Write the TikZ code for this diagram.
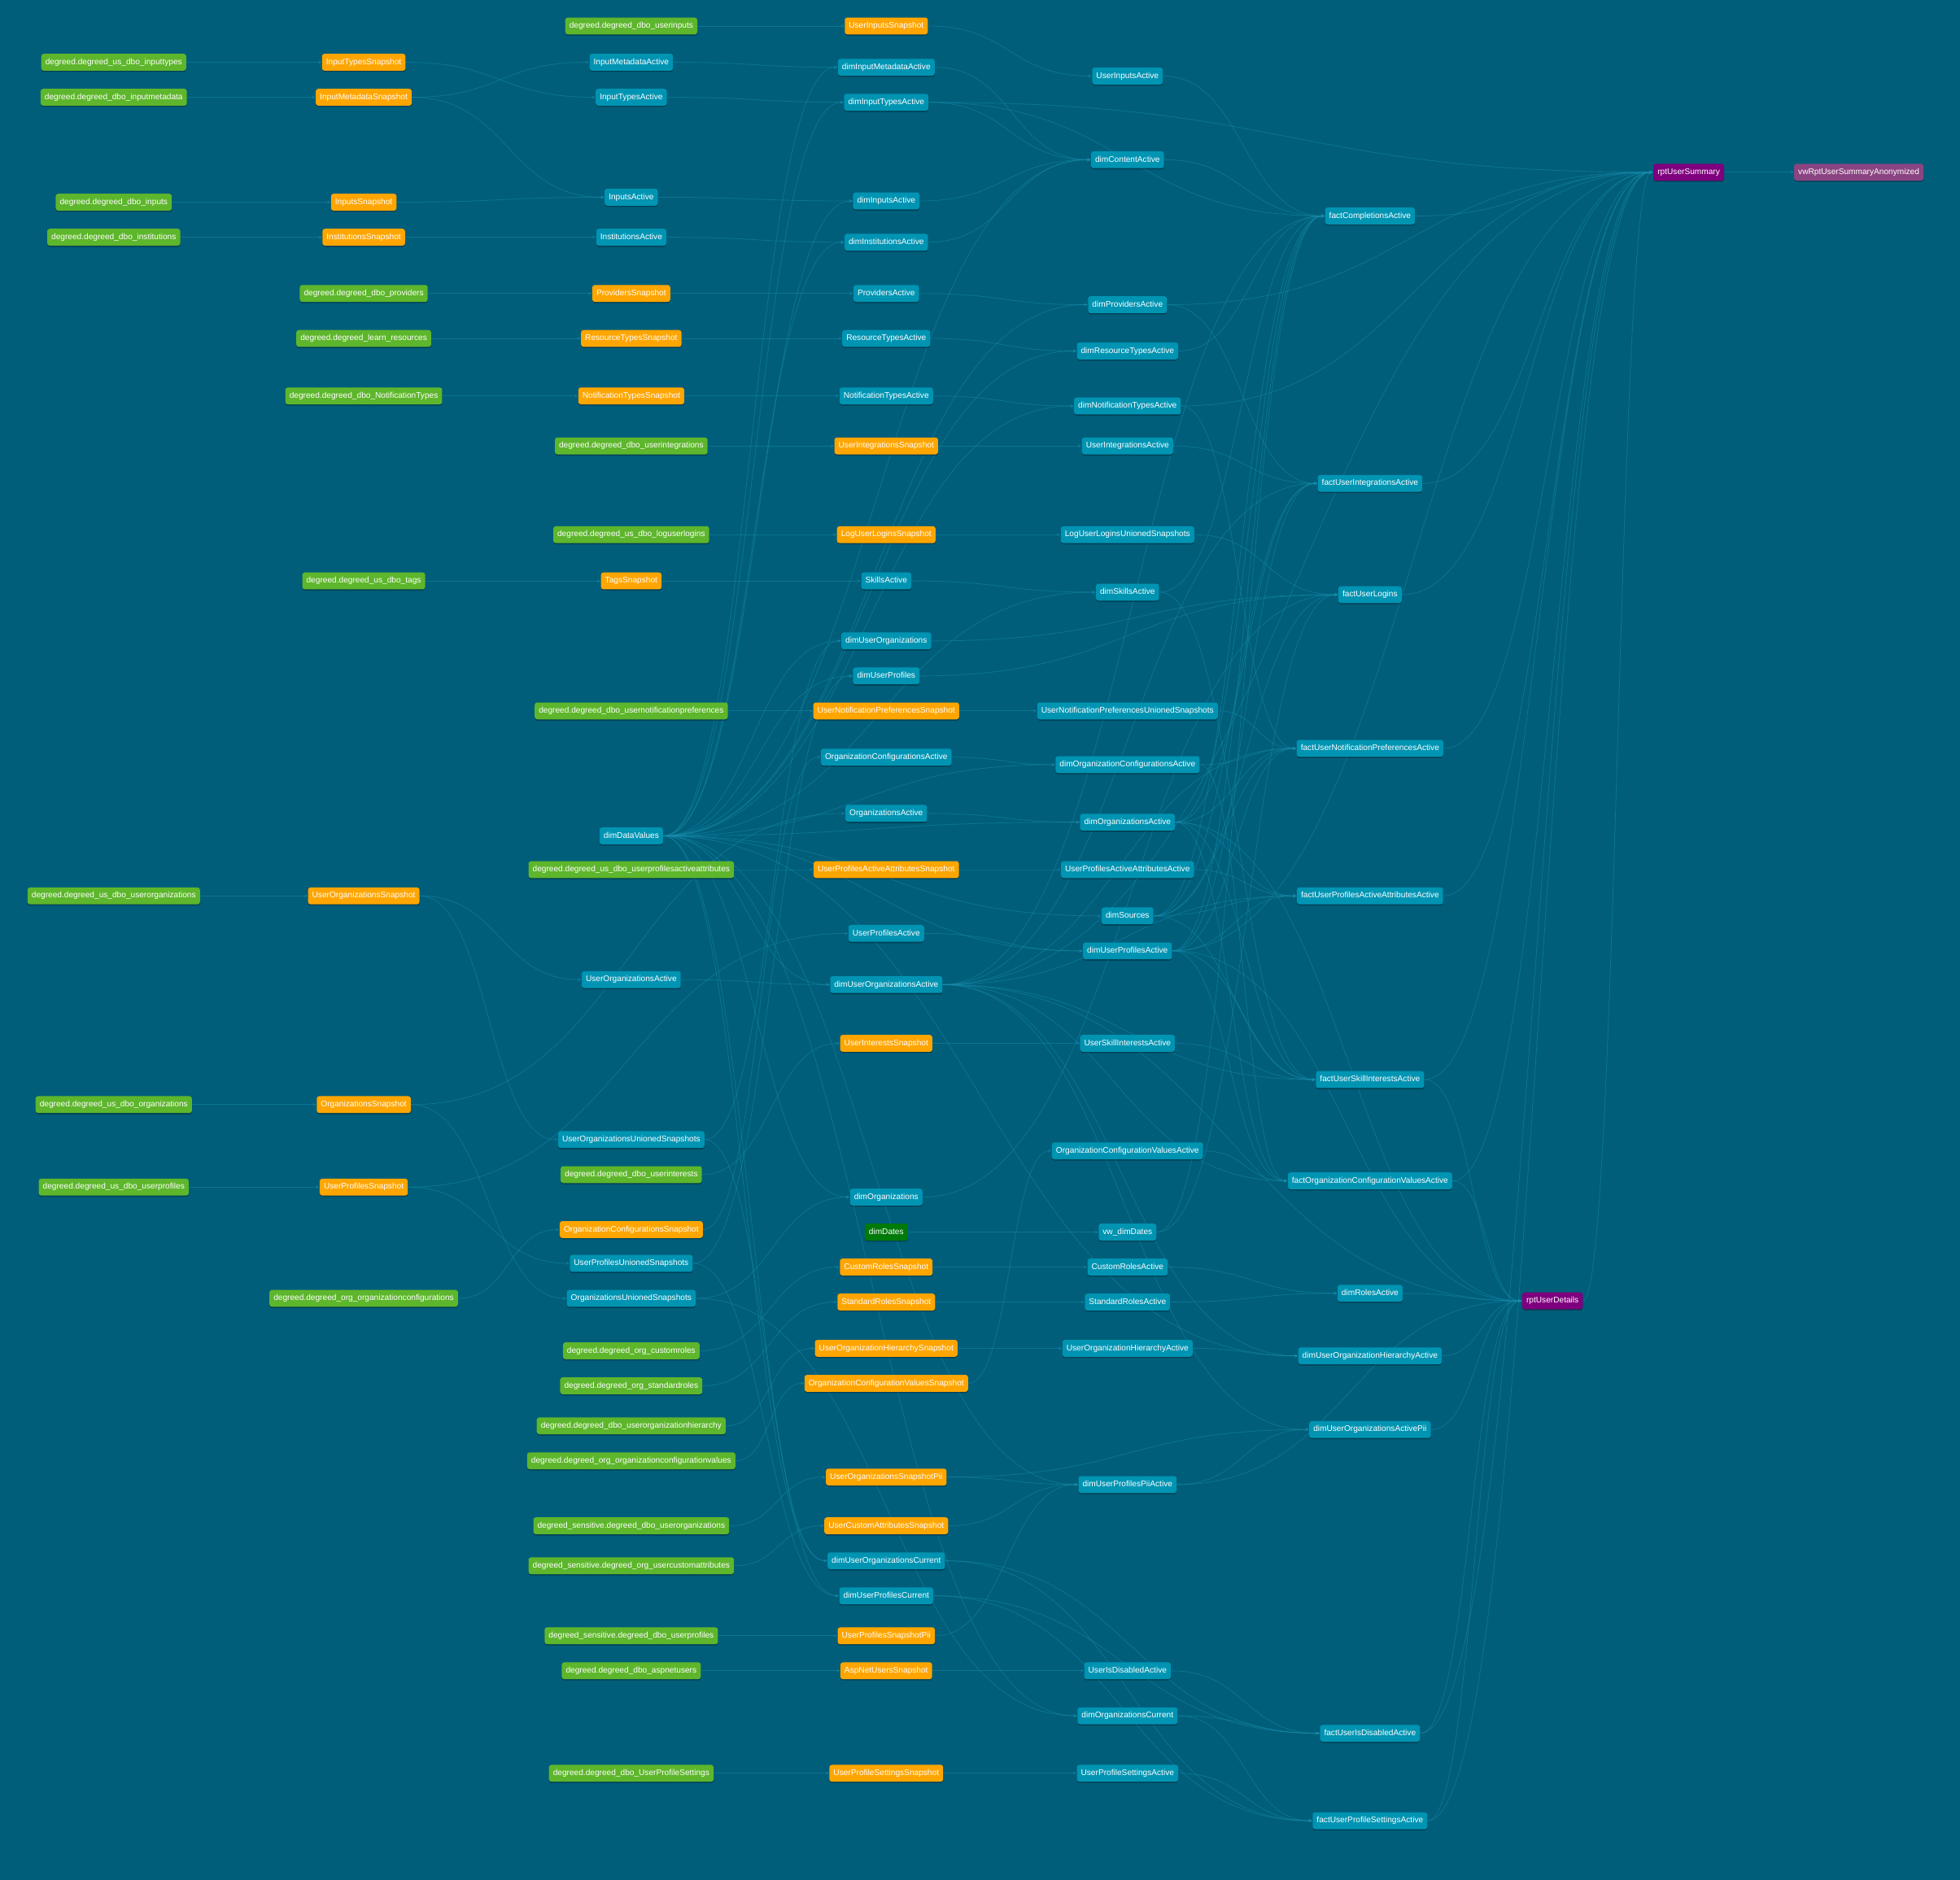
\documentclass[tikz,border=0pt]{standalone}
\usepackage{fontspec}
\setmainfont{Liberation Sans}
\usetikzlibrary{calc,arrows.meta,shadows}
\definecolor{bgc}{HTML}{005E7A}
\definecolor{srcc}{HTML}{5DB62B}
\definecolor{snapc}{HTML}{FFA500}
\definecolor{modc}{HTML}{0094B3}
\definecolor{datec}{HTML}{007A0A}
\definecolor{rptc}{HTML}{7F007F}
\definecolor{vwc}{HTML}{8A4482}
\definecolor{edgec}{HTML}{1A8FAE}
\pgfdeclarelayer{bglayer}
\pgfdeclarelayer{edgelayer}
\pgfsetlayers{bglayer,edgelayer,main}
\newcommand\lnk[2]{\draw[lnkstyle] let \p1=(#1.east), \p2=(#2.west), \n1={0.5*(\x2-\x1)} in (\p1) .. controls +(\n1,0) and +(-\n1,0) .. (\p2);}
\begin{document}
\begin{tikzpicture}[x=1pt,y=-1pt,
  box/.style={rounded corners=2pt, inner xsep=3.3pt, inner ysep=0pt, minimum height=13.5pt,
    text height=4.8pt, text depth=1.3pt, text=white, font=\fontsize{6.6}{7}\selectfont, yshift=-0.8pt,
    drop shadow={shadow xshift=0pt, shadow yshift=-1pt, fill=black, opacity=0.3}},
  src/.style={box, fill=srcc},
  snap/.style={box, fill=snapc},
  mod/.style={box, fill=modc},
  datebox/.style={box, fill=datec},
  rpt/.style={box, fill=rptc},
  vw/.style={box, fill=vwc},
  lnkstyle/.style={draw=edgec, line width=0.55pt, opacity=0.45, -{Stealth[length=3pt,width=2.6pt]}}]
\useasboundingbox (0,0) rectangle (1568,1504);
\begin{pgfonlayer}{bglayer}
\fill[bgc] (0,0) rectangle (1568,1504);
\end{pgfonlayer}
% column 1
\node[src] (sinputtypes) at (91,49) {degreed.degreed\_us\_dbo\_inputtypes};
\node[src] (sinputmetadata) at (91,77) {degreed.degreed\_dbo\_inputmetadata};
\node[src] (sinputs) at (91,161) {degreed.degreed\_dbo\_inputs};
\node[src] (sinstitutions) at (91,189) {degreed.degreed\_dbo\_institutions};
\node[src] (suserorgs) at (91,716) {degreed.degreed\_us\_dbo\_userorganizations};
\node[src] (sorgs) at (91,883) {degreed.degreed\_us\_dbo\_organizations};
\node[src] (suserprofiles) at (91,949) {degreed.degreed\_us\_dbo\_userprofiles};
% column 2
\node[snap] (InputTypesSnapshot) at (291,49) {InputTypesSnapshot};
\node[snap] (InputMetadataSnapshot) at (291,77) {InputMetadataSnapshot};
\node[snap] (InputsSnapshot) at (291,161) {InputsSnapshot};
\node[snap] (InstitutionsSnapshot) at (291,189) {InstitutionsSnapshot};
\node[src] (sproviders) at (291,234) {degreed.degreed\_dbo\_providers};
\node[src] (slearnres) at (291,270) {degreed.degreed\_learn\_resources};
\node[src] (snotiftypes) at (291,316) {degreed.degreed\_dbo\_NotificationTypes};
\node[src] (stags) at (291,464) {degreed.degreed\_us\_dbo\_tags};
\node[snap] (UserOrganizationsSnapshot) at (291,716) {UserOrganizationsSnapshot};
\node[snap] (OrganizationsSnapshot) at (291,883) {OrganizationsSnapshot};
\node[snap] (UserProfilesSnapshot) at (291,949) {UserProfilesSnapshot};
\node[src] (sorgconfigs) at (291,1038) {degreed.degreed\_org\_organizationconfigurations};
% column 3
\node[src] (suserinputs) at (505,20) {degreed.degreed\_dbo\_userinputs};
\node[mod] (InputMetadataActive) at (505,49) {InputMetadataActive};
\node[mod] (InputTypesActive) at (505,77) {InputTypesActive};
\node[mod] (InputsActive) at (505,157) {InputsActive};
\node[mod] (InstitutionsActive) at (505,189) {InstitutionsActive};
\node[snap] (ProvidersSnapshot) at (505,234) {ProvidersSnapshot};
\node[snap] (ResourceTypesSnapshot) at (505,270) {ResourceTypesSnapshot};
\node[snap] (NotificationTypesSnapshot) at (505,316) {NotificationTypesSnapshot};
\node[src] (suserintegrations) at (505,356) {degreed.degreed\_dbo\_userintegrations};
\node[src] (sloguserlogins) at (505,427) {degreed.degreed\_us\_dbo\_loguserlogins};
\node[snap] (TagsSnapshot) at (505,464) {TagsSnapshot};
\node[src] (susernotifprefs) at (505,568) {degreed.degreed\_dbo\_usernotificationpreferences};
\node[mod] (dimDataValues) at (505,668) {dimDataValues};
\node[src] (supaa) at (505,695) {degreed.degreed\_us\_dbo\_userprofilesactiveattributes};
\node[mod] (UserOrganizationsActive) at (505,783) {UserOrganizationsActive};
\node[mod] (UserOrganizationsUnionedSnapshots) at (505,911) {UserOrganizationsUnionedSnapshots};
\node[src] (suserinterests) at (505,939) {degreed.degreed\_dbo\_userinterests};
\node[snap] (OrganizationConfigurationsSnapshot) at (505,983) {OrganizationConfigurationsSnapshot};
\node[mod] (UserProfilesUnionedSnapshots) at (505,1010) {UserProfilesUnionedSnapshots};
\node[mod] (OrganizationsUnionedSnapshots) at (505,1038) {OrganizationsUnionedSnapshots};
\node[src] (scustomroles) at (505,1080) {degreed.degreed\_org\_customroles};
\node[src] (sstandardroles) at (505,1108) {degreed.degreed\_org\_standardroles};
\node[src] (suoh) at (505,1140) {degreed.degreed\_dbo\_userorganizationhierarchy};
\node[src] (socv) at (505,1168) {degreed.degreed\_org\_organizationconfigurationvalues};
\node[src] (ssensuo) at (505,1220) {degreed\_sensitive.degreed\_dbo\_userorganizations};
\node[src] (ssensuca) at (505,1252) {degreed\_sensitive.degreed\_org\_usercustomattributes};
\node[src] (ssensup) at (505,1308) {degreed\_sensitive.degreed\_dbo\_userprofiles};
\node[src] (saspnet) at (505,1336) {degreed.degreed\_dbo\_aspnetusers};
\node[src] (sups) at (505,1418) {degreed.degreed\_dbo\_UserProfileSettings};
% column 4
\node[snap] (UserInputsSnapshot) at (709,20) {UserInputsSnapshot};
\node[mod] (dimInputMetadataActive) at (709,53) {dimInputMetadataActive};
\node[mod] (dimInputTypesActive) at (709,81) {dimInputTypesActive};
\node[mod] (dimInputsActive) at (709,160) {dimInputsActive};
\node[mod] (dimInstitutionsActive) at (709,193) {dimInstitutionsActive};
\node[mod] (ProvidersActive) at (709,234) {ProvidersActive};
\node[mod] (ResourceTypesActive) at (709,270) {ResourceTypesActive};
\node[mod] (NotificationTypesActive) at (709,316) {NotificationTypesActive};
\node[snap] (UserIntegrationsSnapshot) at (709,356) {UserIntegrationsSnapshot};
\node[snap] (LogUserLoginsSnapshot) at (709,427) {LogUserLoginsSnapshot};
\node[mod] (SkillsActive) at (709,464) {SkillsActive};
\node[mod] (dimUserOrganizations) at (709,512) {dimUserOrganizations};
\node[mod] (dimUserProfiles) at (709,540) {dimUserProfiles};
\node[snap] (UserNotificationPreferencesSnapshot) at (709,568) {UserNotificationPreferencesSnapshot};
\node[mod] (OrganizationConfigurationsActive) at (709,605) {OrganizationConfigurationsActive};
\node[mod] (OrganizationsActive) at (709,650) {OrganizationsActive};
\node[snap] (UserProfilesActiveAttributesSnapshot) at (709,695) {UserProfilesActiveAttributesSnapshot};
\node[mod] (UserProfilesActive) at (709,746) {UserProfilesActive};
\node[mod] (dimUserOrganizationsActive) at (709,787) {dimUserOrganizationsActive};
\node[snap] (UserInterestsSnapshot) at (709,834) {UserInterestsSnapshot};
\node[mod] (dimOrganizations) at (709,957) {dimOrganizations};
\node[datebox] (dimDates) at (709,985) {dimDates};
\node[snap] (CustomRolesSnapshot) at (709,1013) {CustomRolesSnapshot};
\node[snap] (StandardRolesSnapshot) at (709,1041) {StandardRolesSnapshot};
\node[snap] (UserOrganizationHierarchySnapshot) at (709,1078) {UserOrganizationHierarchySnapshot};
\node[snap] (OrganizationConfigurationValuesSnapshot) at (709,1106) {OrganizationConfigurationValuesSnapshot};
\node[snap] (UserOrganizationsSnapshotPii) at (709,1181) {UserOrganizationsSnapshotPii};
\node[snap] (UserCustomAttributesSnapshot) at (709,1220) {UserCustomAttributesSnapshot};
\node[mod] (dimUserOrganizationsCurrent) at (709,1248) {dimUserOrganizationsCurrent};
\node[mod] (dimUserProfilesCurrent) at (709,1276) {dimUserProfilesCurrent};
\node[snap] (UserProfilesSnapshotPii) at (709,1308) {UserProfilesSnapshotPii};
\node[snap] (AspNetUsersSnapshot) at (709,1336) {AspNetUsersSnapshot};
\node[snap] (UserProfileSettingsSnapshot) at (709,1418) {UserProfileSettingsSnapshot};
% column 5
\node[mod] (UserInputsActive) at (902,60) {UserInputsActive};
\node[mod] (dimContentActive) at (902,127) {dimContentActive};
\node[mod] (dimProvidersActive) at (902,243) {dimProvidersActive};
\node[mod] (dimResourceTypesActive) at (902,280) {dimResourceTypesActive};
\node[mod] (dimNotificationTypesActive) at (902,324) {dimNotificationTypesActive};
\node[mod] (UserIntegrationsActive) at (902,356) {UserIntegrationsActive};
\node[mod] (LogUserLoginsUnionedSnapshots) at (902,427) {LogUserLoginsUnionedSnapshots};
\node[mod] (dimSkillsActive) at (902,473) {dimSkillsActive};
\node[mod] (UserNotificationPreferencesUnionedSnapshots) at (902,568) {UserNotificationPreferencesUnionedSnapshots};
\node[mod] (dimOrganizationConfigurationsActive) at (902,611) {dimOrganizationConfigurationsActive};
\node[mod] (dimOrganizationsActive) at (902,657) {dimOrganizationsActive};
\node[mod] (UserProfilesActiveAttributesActive) at (902,695) {UserProfilesActiveAttributesActive};
\node[mod] (dimSources) at (902,732) {dimSources};
\node[mod] (dimUserProfilesActive) at (902,760) {dimUserProfilesActive};
\node[mod] (UserSkillInterestsActive) at (902,834) {UserSkillInterestsActive};
\node[mod] (OrganizationConfigurationValuesActive) at (902,920) {OrganizationConfigurationValuesActive};
\node[mod] (vwdimDates) at (902,985) {vw\_dimDates};
\node[mod] (CustomRolesActive) at (902,1013) {CustomRolesActive};
\node[mod] (StandardRolesActive) at (902,1041) {StandardRolesActive};
\node[mod] (UserOrganizationHierarchyActive) at (902,1078) {UserOrganizationHierarchyActive};
\node[mod] (dimUserProfilesPiiActive) at (902,1187) {dimUserProfilesPiiActive};
\node[mod] (UserIsDisabledActive) at (902,1336) {UserIsDisabledActive};
\node[mod] (dimOrganizationsCurrent) at (902,1372) {dimOrganizationsCurrent};
\node[mod] (UserProfileSettingsActive) at (902,1418) {UserProfileSettingsActive};
% column 6
\node[mod] (factCompletionsActive) at (1096,172) {factCompletionsActive};
\node[mod] (factUserIntegrationsActive) at (1096,386) {factUserIntegrationsActive};
\node[mod] (factUserLogins) at (1096,475) {factUserLogins};
\node[mod] (factUserNotificationPreferencesActive) at (1096,598) {factUserNotificationPreferencesActive};
\node[mod] (factUserProfilesActiveAttributesActive) at (1096,716) {factUserProfilesActiveAttributesActive};
\node[mod] (factUserSkillInterestsActive) at (1096,863) {factUserSkillInterestsActive};
\node[mod] (factOrganizationConfigurationValuesActive) at (1096,944) {factOrganizationConfigurationValuesActive};
\node[mod] (dimRolesActive) at (1096,1034) {dimRolesActive};
\node[mod] (dimUserOrganizationHierarchyActive) at (1096,1084) {dimUserOrganizationHierarchyActive};
\node[mod] (dimUserOrganizationsActivePii) at (1096,1143) {dimUserOrganizationsActivePii};
\node[mod] (factUserIsDisabledActive) at (1096,1386) {factUserIsDisabledActive};
\node[mod] (factUserProfileSettingsActive) at (1096,1456) {factUserProfileSettingsActive};
% reports
\node[rpt] (rptUserSummary) at (1351,137) {rptUserSummary};
\node[vw] (vwRptUserSummaryAnonymized) at (1487,137) {vwRptUserSummaryAnonymized};
\node[rpt] (rptUserDetails) at (1242,1040) {rptUserDetails};
% edges
\begin{pgfonlayer}{edgelayer}
\foreach \a/\b in {
 sinputtypes/InputTypesSnapshot, sinputmetadata/InputMetadataSnapshot, sinputs/InputsSnapshot,
 sinstitutions/InstitutionsSnapshot, sproviders/ProvidersSnapshot, slearnres/ResourceTypesSnapshot,
 snotiftypes/NotificationTypesSnapshot, stags/TagsSnapshot, suserorgs/UserOrganizationsSnapshot,
 sorgs/OrganizationsSnapshot, suserprofiles/UserProfilesSnapshot, sorgconfigs/OrganizationConfigurationsSnapshot,
 suserinputs/UserInputsSnapshot, suserintegrations/UserIntegrationsSnapshot, sloguserlogins/LogUserLoginsSnapshot,
 susernotifprefs/UserNotificationPreferencesSnapshot, supaa/UserProfilesActiveAttributesSnapshot,
 suserinterests/UserInterestsSnapshot, scustomroles/CustomRolesSnapshot, sstandardroles/StandardRolesSnapshot,
 suoh/UserOrganizationHierarchySnapshot, socv/OrganizationConfigurationValuesSnapshot,
 ssensuo/UserOrganizationsSnapshotPii, ssensuca/UserCustomAttributesSnapshot, ssensup/UserProfilesSnapshotPii,
 saspnet/AspNetUsersSnapshot, sups/UserProfileSettingsSnapshot,
 InputTypesSnapshot/InputTypesActive, InputMetadataSnapshot/InputMetadataActive, InputMetadataSnapshot/InputsActive,
 InputsSnapshot/InputsActive, InstitutionsSnapshot/InstitutionsActive, ProvidersSnapshot/ProvidersActive,
 ResourceTypesSnapshot/ResourceTypesActive, NotificationTypesSnapshot/NotificationTypesActive,
 UserIntegrationsSnapshot/UserIntegrationsActive, LogUserLoginsSnapshot/LogUserLoginsUnionedSnapshots,
 TagsSnapshot/SkillsActive, UserNotificationPreferencesSnapshot/UserNotificationPreferencesUnionedSnapshots,
 UserProfilesActiveAttributesSnapshot/UserProfilesActiveAttributesActive, UserInputsSnapshot/UserInputsActive,
 UserOrganizationsSnapshot/UserOrganizationsActive, UserOrganizationsSnapshot/UserOrganizationsUnionedSnapshots,
 OrganizationsSnapshot/OrganizationsActive, OrganizationsSnapshot/OrganizationsUnionedSnapshots,
 UserProfilesSnapshot/UserProfilesActive, UserProfilesSnapshot/UserProfilesUnionedSnapshots,
 OrganizationConfigurationsSnapshot/OrganizationConfigurationsActive, UserInterestsSnapshot/UserSkillInterestsActive,
 CustomRolesSnapshot/CustomRolesActive, StandardRolesSnapshot/StandardRolesActive,
 UserOrganizationHierarchySnapshot/UserOrganizationHierarchyActive,
 OrganizationConfigurationValuesSnapshot/OrganizationConfigurationValuesActive,
 UserOrganizationsSnapshotPii/dimUserProfilesPiiActive, UserOrganizationsSnapshotPii/dimUserOrganizationsActivePii,
 UserCustomAttributesSnapshot/dimUserProfilesPiiActive, UserProfilesSnapshotPii/dimUserProfilesPiiActive,
 AspNetUsersSnapshot/UserIsDisabledActive, UserProfileSettingsSnapshot/UserProfileSettingsActive,
 dimDates/vwdimDates,
 InputMetadataActive/dimInputMetadataActive, InputTypesActive/dimInputTypesActive, InputsActive/dimInputsActive,
 InstitutionsActive/dimInstitutionsActive, ProvidersActive/dimProvidersActive, ResourceTypesActive/dimResourceTypesActive,
 NotificationTypesActive/dimNotificationTypesActive, SkillsActive/dimSkillsActive,
 OrganizationConfigurationsActive/dimOrganizationConfigurationsActive, OrganizationsActive/dimOrganizationsActive,
 UserProfilesActive/dimUserProfilesActive, UserOrganizationsActive/dimUserOrganizationsActive,
 UserOrganizationsUnionedSnapshots/dimUserOrganizations, UserOrganizationsUnionedSnapshots/dimUserOrganizationsCurrent,
 UserProfilesUnionedSnapshots/dimUserProfiles, UserProfilesUnionedSnapshots/dimUserProfilesCurrent,
 OrganizationsUnionedSnapshots/dimOrganizations, OrganizationsUnionedSnapshots/dimOrganizationsCurrent,
 CustomRolesActive/dimRolesActive, StandardRolesActive/dimRolesActive,
 UserOrganizationHierarchyActive/dimUserOrganizationHierarchyActive,
 dimUserProfilesPiiActive/dimUserOrganizationsActivePii, dimUserOrganizationsActive/dimUserOrganizationsActivePii,
 dimDataValues/dimInputMetadataActive, dimDataValues/dimInputTypesActive, dimDataValues/dimInputsActive,
 dimDataValues/dimInstitutionsActive, dimDataValues/dimProvidersActive, dimDataValues/dimResourceTypesActive,
 dimDataValues/dimNotificationTypesActive, dimDataValues/dimSkillsActive, dimDataValues/dimUserOrganizations,
 dimDataValues/dimUserProfiles, dimDataValues/dimOrganizationConfigurationsActive, dimDataValues/dimOrganizationsActive,
 dimDataValues/dimSources, dimDataValues/dimUserProfilesActive, dimDataValues/dimUserOrganizationsActive,
 dimDataValues/dimOrganizations, dimDataValues/dimUserOrganizationsCurrent, dimDataValues/dimUserProfilesCurrent,
 dimDataValues/dimUserProfilesPiiActive, dimDataValues/dimOrganizationsCurrent,
 dimDataValues/dimUserOrganizationHierarchyActive, dimDataValues/dimContentActive,
 dimInputMetadataActive/dimContentActive, dimInputTypesActive/dimContentActive, dimInputsActive/dimContentActive,
 dimInstitutionsActive/dimContentActive, dimContentActive/factCompletionsActive, UserInputsActive/factCompletionsActive,
 dimInputTypesActive/factCompletionsActive, dimInputTypesActive/rptUserSummary,
 dimProvidersActive/rptUserSummary, dimProvidersActive/factUserIntegrationsActive,
 dimResourceTypesActive/factCompletionsActive, dimNotificationTypesActive/rptUserSummary,
 dimNotificationTypesActive/factUserNotificationPreferencesActive, UserIntegrationsActive/factUserIntegrationsActive,
 LogUserLoginsUnionedSnapshots/factUserLogins, dimSkillsActive/factUserSkillInterestsActive,
 dimSkillsActive/factCompletionsActive, dimUserOrganizations/factUserLogins, dimUserProfiles/factUserLogins,
 dimOrganizations/factUserLogins,
 UserNotificationPreferencesUnionedSnapshots/factUserNotificationPreferencesActive,
 dimOrganizationConfigurationsActive/factUserNotificationPreferencesActive,
 dimOrganizationConfigurationsActive/factOrganizationConfigurationValuesActive,
 UserProfilesActiveAttributesActive/factUserProfilesActiveAttributesActive,
 UserSkillInterestsActive/factUserSkillInterestsActive,
 OrganizationConfigurationValuesActive/factOrganizationConfigurationValuesActive,
 UserIsDisabledActive/factUserIsDisabledActive, dimOrganizationsCurrent/factUserIsDisabledActive,
 dimUserProfilesCurrent/factUserIsDisabledActive, dimUserOrganizationsCurrent/factUserIsDisabledActive,
 UserProfileSettingsActive/factUserProfileSettingsActive, dimOrganizationsCurrent/factUserProfileSettingsActive,
 dimUserProfilesCurrent/factUserProfileSettingsActive, dimUserOrganizationsCurrent/factUserProfileSettingsActive,
 vwdimDates/factCompletionsActive, vwdimDates/factUserLogins,
 dimSources/factCompletionsActive, dimSources/factUserIntegrationsActive, dimSources/factUserLogins,
 dimSources/factUserNotificationPreferencesActive, dimSources/factUserProfilesActiveAttributesActive,
 dimSources/factUserSkillInterestsActive,
 dimUserProfilesActive/factCompletionsActive, dimUserProfilesActive/factUserIntegrationsActive,
 dimUserProfilesActive/factUserNotificationPreferencesActive, dimUserProfilesActive/factUserProfilesActiveAttributesActive,
 dimUserProfilesActive/factUserSkillInterestsActive, dimUserProfilesActive/factOrganizationConfigurationValuesActive,
 dimUserProfilesActive/rptUserDetails, dimUserProfilesActive/rptUserSummary,
 dimOrganizationsActive/factCompletionsActive, dimOrganizationsActive/factUserIntegrationsActive,
 dimOrganizationsActive/factUserNotificationPreferencesActive, dimOrganizationsActive/factUserProfilesActiveAttributesActive,
 dimOrganizationsActive/factUserSkillInterestsActive, dimOrganizationsActive/factOrganizationConfigurationValuesActive,
 dimOrganizationsActive/rptUserDetails,
 dimUserOrganizationsActive/factCompletionsActive, dimUserOrganizationsActive/factUserIntegrationsActive,
 dimUserOrganizationsActive/factUserNotificationPreferencesActive,
 dimUserOrganizationsActive/factUserProfilesActiveAttributesActive,
 dimUserOrganizationsActive/factUserSkillInterestsActive,
 dimUserOrganizationsActive/factOrganizationConfigurationValuesActive,
 dimUserOrganizationsActive/rptUserDetails, dimUserOrganizationsActive/rptUserSummary,
 dimUserOrganizationsActive/dimUserOrganizationHierarchyActive,
 factCompletionsActive/rptUserSummary, factUserIntegrationsActive/rptUserSummary, factUserLogins/rptUserSummary,
 factUserNotificationPreferencesActive/rptUserSummary, factUserProfilesActiveAttributesActive/rptUserSummary,
 factUserSkillInterestsActive/rptUserSummary, factOrganizationConfigurationValuesActive/rptUserSummary,
 factUserIsDisabledActive/rptUserSummary, factUserProfileSettingsActive/rptUserSummary,
 factOrganizationConfigurationValuesActive/rptUserDetails, factUserSkillInterestsActive/rptUserDetails,
 factUserIsDisabledActive/rptUserDetails, factUserProfileSettingsActive/rptUserDetails,
 dimRolesActive/rptUserDetails, dimUserOrganizationHierarchyActive/rptUserDetails,
 dimUserOrganizationsActivePii/rptUserDetails, dimUserProfilesPiiActive/rptUserDetails,
 rptUserDetails/rptUserSummary, rptUserSummary/vwRptUserSummaryAnonymized}
 {\lnk{\a}{\b}}
\end{pgfonlayer}
\end{tikzpicture}
\end{document}
